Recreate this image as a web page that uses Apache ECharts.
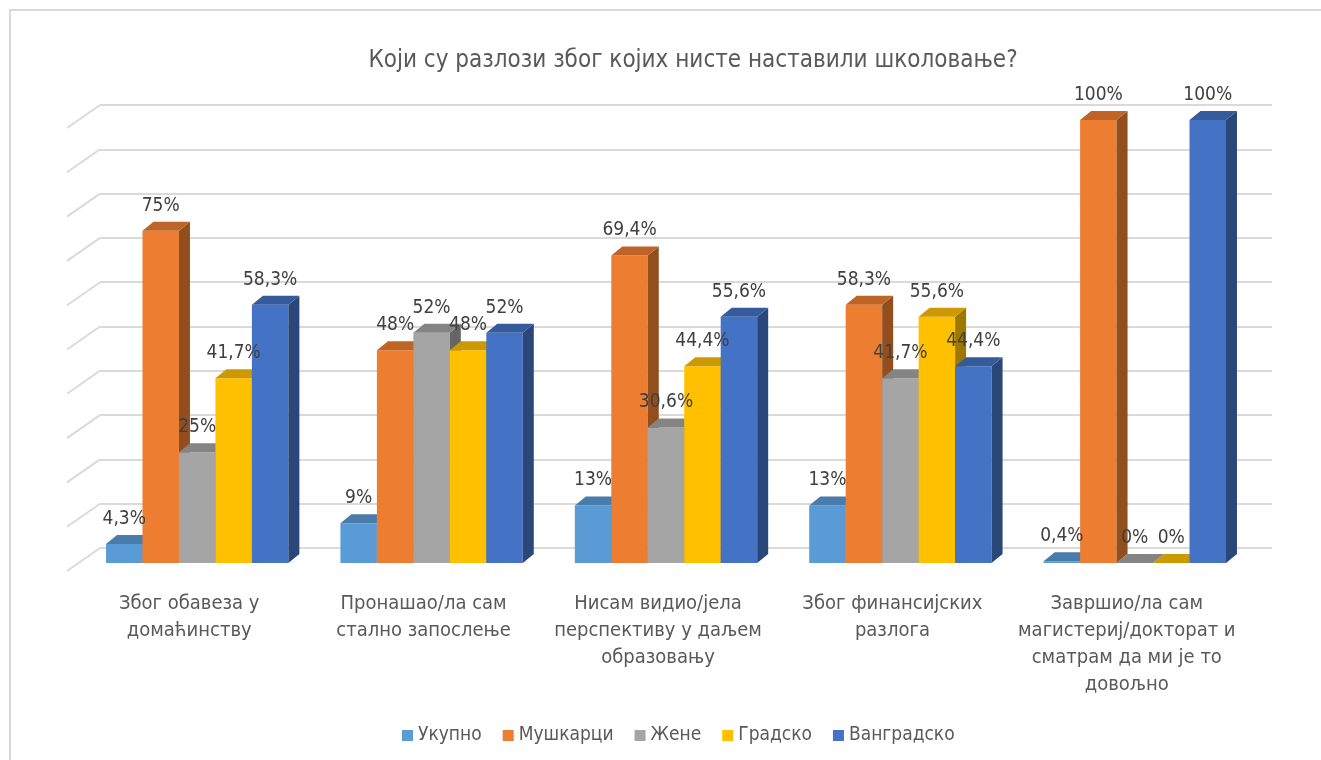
<!DOCTYPE html>
<html>
<head>
<meta charset="utf-8">
<title>Који су разлози због којих нисте наставили школовање?</title>
<script src="https://cdn.jsdelivr.net/npm/echarts@6/dist/echarts.min.js"></script>
<style>
  html, body { margin: 0; padding: 0; background: #ffffff; }
  #chart { width: 1321px; height: 760px; }
</style>
</head>
<body>
<div id="chart"></div>
<script>
// categories (labels broken into lines as in the original)
const categories = [
  'Због обавеза у\nдомаћинству',
  'Пронашао/ла сам\nстално запослење',
  'Нисам видио/јела\nперспективу у даљем\nобразовању',
  'Због финансијских\nразлога',
  'Завршио/ла сам\nмагистериј/докторат и\nсматрам да ми је то\nдовољно'
]
const seriesNames = ['Укупно', 'Мушкарци', 'Жене', 'Градско', 'Ванградско']

const ukupno = [4.3, 9, 13, 13, 0.4]
const muskarci = [75, 48, 69.4, 58.3, 100]
const zene = [25, 52, 30.6, 41.7, 0]
const gradsko = [41.7, 48, 44.4, 55.6, 0]
const vangradsko = [58.3, 52, 55.6, 44.4, 100]

// back-wall gridline values
const wallTicks = [0, 10, 20, 30, 40, 50, 60, 70, 80, 90, 100]

const seriesValues = [ukupno, muskarci, zene, gradsko, vangradsko]
const colors = ['#5B9BD5', '#ED7D31', '#A5A5A5', '#FFC000', '#4472C4']
const FONT = '"DejaVu Sans Condensed", "DejaVu Sans", sans-serif'

// fake 3d geometry
const FRONT_DX = -20
const FRONT_DY = 15
const DEPTH_DX = 11
const DEPTH_DY = -9
const BAR_RATIO = 0.1556
const WALL_DX = -33
const WALL_DY = 23

function shade(hex, k) {
  const n = parseInt(hex.slice(1), 16)
  const r = Math.round(((n >> 16) & 255) * k)
  const g = Math.round(((n >> 8) & 255) * k)
  const b = Math.round((n & 255) * k)
  return 'rgb(' + r + ',' + g + ',' + b + ')'
}

function formatValue(v) {
  return String(v).replace('.', ',') + '%'
}

function barRenderer(slot, color) {
  const topColor = shade(color, 0.8)
  const sideColor = shade(color, 0.62)
  return function (params, api) {
    const cat = api.value(0)
    const val = api.value(1)
    const base = api.coord([cat, 0])
    const peak = api.coord([cat, val])
    const w = api.size([1, 0])[0] * BAR_RATIO
    const x0 = base[0] - w * seriesNames.length / 2 + slot * w + FRONT_DX
    const x1 = x0 + w
    const yb = base[1] + FRONT_DY
    const yt = peak[1] + FRONT_DY
    return {
      type: 'group',
      children: [
        {
          type: 'rect',
          shape: { x: x0, y: yt, width: w, height: yb - yt },
          style: { fill: color }
        },
        {
          type: 'polygon',
          shape: { points: [[x1, yt], [x1 + DEPTH_DX, yt + DEPTH_DY], [x1 + DEPTH_DX, yb + DEPTH_DY], [x1, yb]] },
          style: { fill: sideColor }
        },
        {
          type: 'polygon',
          shape: { points: [[x0, yt], [x1, yt], [x1 + DEPTH_DX, yt + DEPTH_DY], [x0 + DEPTH_DX, yt + DEPTH_DY]] },
          style: { fill: topColor }
        },
        {
          type: 'text',
          z2: 100,
          x: (x0 + x1) / 2,
          y: yt - 25,
          style: {
            text: formatValue(val),
            fill: '#404040',
            fontSize: 19,
            fontFamily: FONT,
            align: 'center',
            verticalAlign: 'middle'
          }
        }
      ]
    }
  }
}

function wallRenderer(params, api) {
  const y = api.coord([0, api.value(1)])[1]
  const x = params.coordSys.x
  return {
    type: 'line',
    shape: { x1: x, y1: y, x2: x + WALL_DX, y2: y + WALL_DY },
    style: { stroke: '#DADADA', lineWidth: 2 }
  }
}

const chart = echarts.init(document.getElementById('chart'))

const barSeries = seriesNames.map((name, i) => ({
  name: name,
  type: 'custom',
  itemStyle: { color: colors[i] },
  renderItem: barRenderer(i, colors[i]),
  encode: { x: 0, y: 1 },
  data: seriesValues[i].map((v, c) => [c, v])
}))

chart.setOption({
  animation: false,
  title: {
    text: 'Који су разлози због којих нисте наставили школовање?',
    left: 688,
    top: 44,
    textAlign: 'center',
    textStyle: {
      fontFamily: FONT,
      fontSize: 24,
      fontWeight: 'normal',
      color: '#595959'
    }
  },
  legend: {
    data: seriesNames,
    left: 397,
    top: 721,
    icon: 'rect',
    itemWidth: 11,
    itemHeight: 11,
    itemGap: 21,
    textStyle: { fontFamily: FONT, fontSize: 19, color: '#595959' }
  },
  graphic: [
    {
      type: 'rect',
      silent: true,
      shape: { x: 10, y: 10, width: 1400, height: 800 },
      style: { fill: 'none', stroke: '#D9D9D9', lineWidth: 2 }
    }
  ],
  grid: { left: 100, right: 49, top: 105, bottom: 212 },
  xAxis: {
    type: 'category',
    data: categories,
    axisLine: { show: false },
    axisTick: { show: false },
    axisLabel: {
      interval: 0,
      margin: 42,
      fontFamily: FONT,
      fontSize: 20,
      lineHeight: 27,
      color: '#595959',
      align: 'center',
      padding: [0, 56, 0, 0]
    }
  },
  yAxis: {
    type: 'value',
    min: 0,
    max: 100,
    interval: 10,
    axisLabel: { show: false },
    axisLine: { show: false },
    axisTick: { show: false },
    splitLine: { lineStyle: { color: '#DADADA', width: 2 } }
  },
  series: [
    {
      name: 'wall',
      type: 'custom',
      silent: true,
      z: 1,
      renderItem: wallRenderer,
      encode: { x: 0, y: 1 },
      data: wallTicks.map(t => [0, t])
    }
  ].concat(barSeries)
})
</script>
</body>
</html>
